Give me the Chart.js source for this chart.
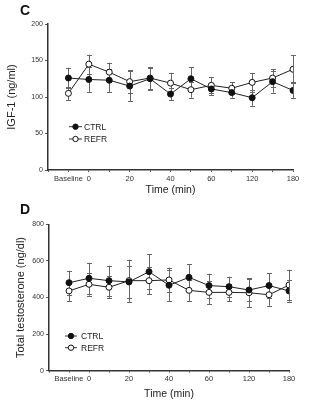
<!DOCTYPE html>
<html>
<head>
<meta charset="utf-8">
<script src="https://cdn.jsdelivr.net/npm/chart.js@4/dist/chart.umd.min.js"></script>
<style>
  body { margin: 0; background: #fff; width: 315px; height: 406px; position: relative; overflow: hidden; font-family: 'Liberation Sans', Arial, sans-serif; }
  .panel { position: absolute; left: 0; width: 315px; }
  .letter { position: absolute; left: 20px; font-weight: bold; font-size: 14px; line-height: 14px; color: #111; }
</style>
</head>
<body>
<div class="panel" style="top:0;height:200px"><canvas id="chartC" width="315" height="200"></canvas></div>
<div class="panel" style="top:200px;height:206px"><canvas id="chartD" width="315" height="206"></canvas></div>
<div class="letter" style="top:3px">C</div>
<div class="letter" style="top:202px">D</div>
<script>
// time points (min) and the labels printed under the axis
var timePoints = ['Baseline', '0', '10', '20', '30', '40', '50', '60', '90', '120', '150', '180']
var tickLabels = ['Baseline', '0', '', '20', '', '40', '', '60', '', '120', '', '180']

// IGF-1 (ng/ml)
var igfCtrl   = [126, 124, 123, 115, 125, 104, 125, 111, 106, 99, 121, 109]
var igfCtrlSd = [14, 17, 16, 21, 15, 8, 16, 8, 7, 11, 15, 11]
var igfRefr   = [105, 145, 134, 121, 126, 119, 110, 116, 112, 120, 126, 138]
var igfRefrSd = [9, 13, 13, 16, 15, 14, 11, 11, 8, 13, 12, 19]

// Total testosterone (ng/dl)
var ttCtrl   = [481, 505, 492, 485, 541, 467, 510, 465, 459, 441, 465, 436]
var ttCtrlSd = [65, 85, 82, 88, 95, 86, 71, 65, 55, 62, 69, 59]
var ttRefr   = [436, 472, 456, 492, 492, 496, 439, 428, 428, 426, 415, 468]
var ttRefrSd = [55, 62, 60, 115, 73, 67, 58, 64, 47, 80, 60, 84]

var FONT = "'Liberation Sans', Arial, sans-serif"

function toPoints(arr){
  return arr.map(function(v, i){ return {x: i, y: v} })
}

// draws the SD bars under the lines
var errorBars = {
  id: 'errorBars',
  beforeDatasetsDraw: function(chart, args, opts){
    var ctx = chart.ctx, ys = chart.scales.y
    ctx.save()
    ctx.strokeStyle = '#666'
    ctx.lineWidth = 1
    chart.data.datasets.forEach(function(ds, d){
      var meta = chart.getDatasetMeta(d)
      meta.data.forEach(function(pt, i){
        var v = ds.data[i].y, e = opts.sd[d][i]
        var top = ys.getPixelForValue(v + e), bot = ys.getPixelForValue(v - e)
        var x = Math.round(pt.x) + 0.5
        ctx.beginPath()
        ctx.moveTo(x, top); ctx.lineTo(x, bot)
        ctx.moveTo(x - 2.5, Math.round(top) + 0.5); ctx.lineTo(x + 2.5, Math.round(top) + 0.5)
        ctx.moveTo(x - 2.5, Math.round(bot) + 0.5); ctx.lineTo(x + 2.5, Math.round(bot) + 0.5)
        ctx.stroke()
      })
    })
    ctx.restore()
  }
}

// small legend inside the plot, like the original
var innerLegend = {
  id: 'innerLegend',
  afterDraw: function(chart, args, opts){
    var ctx = chart.ctx
    ctx.save()
    ctx.font = '8.5px ' + FONT
    ctx.textBaseline = 'middle'
    chart.data.datasets.forEach(function(ds, d){
      var y = opts.y[d]
      ctx.strokeStyle = '#333'
      ctx.lineWidth = 1
      ctx.beginPath()
      ctx.moveTo(opts.x0, y); ctx.lineTo(opts.x1, y)
      ctx.stroke()
      ctx.beginPath()
      ctx.arc((opts.x0 + opts.x1) / 2, y, 2.7, 0, Math.PI * 2)
      ctx.fillStyle = ds.pointBackgroundColor
      ctx.fill()
      ctx.strokeStyle = '#111'
      ctx.stroke()
      ctx.fillStyle = '#222'
      ctx.fillText(ds.label, opts.tx, y + 0.5)
    })
    ctx.restore()
  }
}

function makeChart(id, cfg){
  var ctx = document.getElementById(id).getContext('2d')
  return new Chart(ctx, {
    type: 'line',
    data: {
      datasets: [
        {
          label: 'CTRL',
          data: toPoints(cfg.ctrl),
          borderColor: '#222',
          borderWidth: 1,
          pointRadius: 3,
          pointBackgroundColor: '#111',
          pointBorderColor: '#111',
          pointBorderWidth: 1
        },
        {
          label: 'REFR',
          data: toPoints(cfg.refr),
          borderColor: '#222',
          borderWidth: 1,
          pointRadius: 3,
          pointBackgroundColor: '#fff',
          pointBorderColor: '#111',
          pointBorderWidth: 1
        }
      ]
    },
    options: {
      responsive: false,
      animation: false,
      layout: { padding: { left: 0, right: cfg.padRight, top: cfg.padTop, bottom: 0 } },
      plugins: {
        legend: { display: false },
        tooltip: { enabled: false },
        errorBars: { sd: [cfg.ctrlSd, cfg.refrSd] },
        innerLegend: cfg.legend
      },
      scales: {
        x: {
          type: 'linear',
          min: -1,
          max: timePoints.length - 1,
          afterFit: function(scale){ scale.height = cfg.xHeight },
          border: { display: true, color: '#333', width: 1.5 },
          grid: { drawOnChartArea: false, drawTicks: true, tickLength: 2, color: '#555' },
          ticks: {
            stepSize: 1,
            autoSkip: false,
            maxRotation: 0,
            padding: 2,
            color: '#333',
            font: { family: FONT, size: 7.5 },
            callback: function(v){ return tickLabels[v] !== undefined ? tickLabels[v] : '' }
          },
          title: {
            display: true,
            text: 'Time (min)',
            color: '#222',
            font: { family: FONT, size: 10.5 },
            padding: { top: 0, bottom: cfg.xTitlePad }
          }
        },
        y: {
          min: 0,
          max: cfg.yMax,
          afterFit: function(scale){ scale.width = cfg.yWidth },
          border: { display: true, color: '#333', width: 1.5 },
          grid: { drawOnChartArea: false, drawTicks: true, tickLength: 3, color: '#555' },
          ticks: {
            stepSize: cfg.yStep,
            padding: 2,
            color: '#333',
            font: { family: FONT, size: 7 }
          },
          title: {
            display: true,
            text: cfg.yTitle,
            color: '#222',
            font: { family: FONT, size: 11 },
            padding: { top: cfg.yTitlePad, bottom: 0 }
          }
        }
      }
    },
    plugins: [errorBars, innerLegend]
  })
}

makeChart('chartC', {
  ctrl: igfCtrl, ctrlSd: igfCtrlSd, refr: igfRefr, refrSd: igfRefrSd,
  yMax: 200, yStep: 50, yTitle: 'IGF-1 (ng/ml)',
  padRight: 22, padTop: 24, xHeight: 30, yWidth: 48,
  xTitlePad: 3.7, yTitlePad: 5.4,
  legend: { x0: 69, x1: 82, tx: 84, y: [126.7, 139] }
})

makeChart('chartD', {
  ctrl: ttCtrl, ctrlSd: ttCtrlSd, refr: ttRefr, refrSd: ttRefrSd,
  yMax: 800, yStep: 200, yTitle: 'Total testosterone (ng/dl)',
  padRight: 26, padTop: 24.3, xHeight: 35.3, yWidth: 49,
  xTitlePad: 5.4, yTitlePad: 14.4,
  legend: { x0: 65, x1: 77, tx: 81, y: [136, 147.7] }
})
</script>
</body>
</html>
